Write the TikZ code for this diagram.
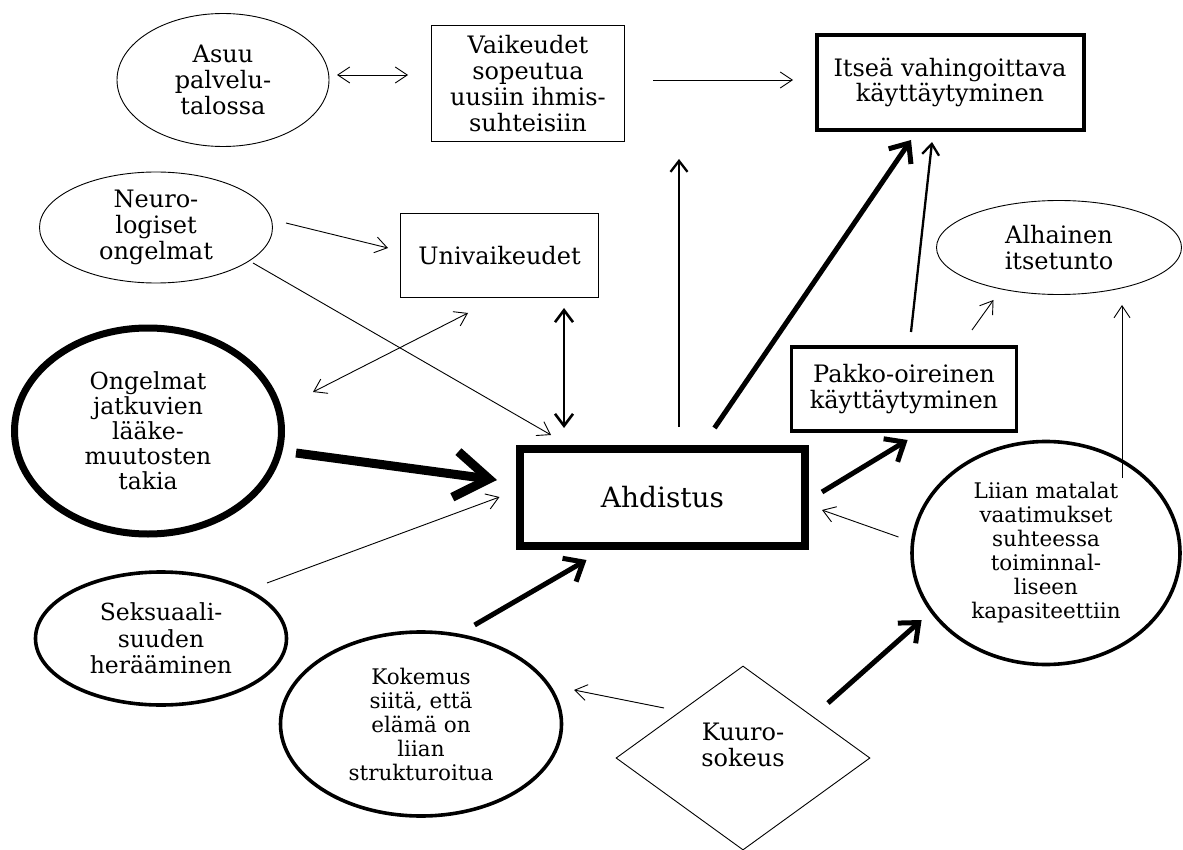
\documentclass[tikz,border=0pt]{standalone}
\usepackage{fontspec}
\setmainfont{DejaVu Serif}
\usetikzlibrary{arrows.meta,shapes.geometric,calc}

\begin{document}
\begin{tikzpicture}[x=1pt,y=-1pt,
  txt/.style={align=center,font=\fontsize{24}{26}\selectfont,inner sep=0pt},
  small/.style={font=\fontsize{21.5}{24}\selectfont},
  oval/.style={txt,ellipse,draw},
  box/.style={txt,rectangle,draw},
  thinln/.style={line width=0.9pt},
  boldln/.style={line width=3.6pt},
  thinarr/.style={line width=0.9pt,-{Straight Barb[length=12pt,width=16pt]}},
  thinbi/.style={line width=0.9pt,{Straight Barb[length=12pt,width=16pt]}-{Straight Barb[length=12pt,width=16pt]}},
  midarr/.style={line width=2.3pt,-{Straight Barb[length=11pt,width=17pt]}},
  midbi/.style={line width=2.6pt,{Straight Barb[length=12pt,width=18pt]}-{Straight Barb[length=12pt,width=18pt]}},
  thickarr/.style={line width=5pt,-{Straight Barb[length=16pt,width=27pt]}},
  heavyarr/.style={line width=9pt,-{Straight Barb[length=34pt,width=46pt]}}
]
\useasboundingbox (0,0) rectangle (1183,850);
\fill[white] (0,0) rectangle (1183,850);

% boxes and ovals
\node[oval,thinln,minimum width=212,minimum height=133] (asuu) at (223,80) {Asuu\\palvelu-\\talossa};
\node[box,thinln,minimum width=193,minimum height=116] (vaik) at (528,83.5) {Vaikeudet\\sopeutua\\uusiin ihmis-\\suhteisiin};
\node[box,line width=4pt,minimum width=267,minimum height=95,font=\fontsize{24}{24.5}\selectfont] (itse) at (950,82.5) {Itseä vahingoittava\\käyttäytyminen};
\node[oval,thinln,minimum width=233,minimum height=111] (neuro) at (156,227.5) {Neuro-\\logiset\\ongelmat};
\node[box,thinln,minimum width=198,minimum height=84] (univ) at (499.5,255.5) {Univaikeudet};
\node[oval,thinln,minimum width=245,minimum height=94] (alh) at (1059,247.5) {Alhainen\\itsetunto};
\node[box,boldln,minimum width=225,minimum height=84] (pakko) at (904,389) {Pakko-oireinen\\käyttäytyminen};
\node[oval,line width=7pt,minimum width=267,minimum height=206,font=\fontsize{23.5}{25}\selectfont] (ong) at (148,431) {Ongelmat\\jatkuvien\\lääke-\\muutosten\\takia};
\node[box,line width=8pt,minimum width=285,minimum height=97,font=\fontsize{28}{30}\selectfont] (ahd) at (662.5,497.5) {Ahdistus};
\node[oval,boldln,minimum width=251,minimum height=133,font=\fontsize{23.5}{26.5}\selectfont] (seks) at (161,638.5) {Seksuaali-\\suuden\\herääminen};
\node[oval,boldln,small,minimum width=281,minimum height=184] (kok) at (421,724) {Kokemus\\siitä, että\\elämä on\\liian\\strukturoitua};
\node[diamond,draw,thinln,inner sep=0pt,minimum width=254,minimum height=184,
      label={[txt,yshift=13pt]center:{Kuuro-\\sokeus}}] (kuuro) at (743,758) {};
\node[oval,boldln,small,minimum width=268,minimum height=223] (liian) at (1046,553) {Liian matalat\\vaatimukset\\suhteessa\\toiminnal-\\liseen\\kapasiteettiin};

% free end of the arrow rising from Ahdistus
\coordinate (upend) at (679,159);

% connectors
\draw[thinbi] ($(asuu)+(114,-5)$) -- ($(vaik)+(-120,-8.5)$);
\draw[thinarr] ($(vaik)+(125,-3.5)$) -- ($(itse)+(-157,-2.5)$);
\draw[thinarr] ($(neuro)+(130,-4.5)$) -- ($(univ)+(-111.5,-7.5)$);
\draw[thinarr] ($(neuro)+(97,35.5)$) -- ($(ahd)+(-111.5,-62.5)$);
\draw[thinbi] ($(ong)+(165,-39)$) -- ($(univ)+(-31.5,57.5)$);
\draw[midbi] ($(univ)+(64.5,52.5)$) -- ($(ahd)+(-98.5,-69.5)$);
\draw[midarr] ($(ahd)+(16.5,-70.5)$) -- (upend);
\draw[thickarr] ($(ahd)+(52,-69.5)$) -- ($(itse)+(-39,57.5)$);
\draw[midarr] ($(pakko)+(7,-57)$) -- ($(itse)+(-18,59.5)$);
\draw[thinarr] ($(pakko)+(68,-59)$) -- ($(alh)+(-65.5,52.5)$);
\draw[thinarr] ($(liian)+(76,-75)$) -- ($(alh)+(63,57.5)$);
\draw[heavyarr] ($(ong)+(148,22)$) -- ($(ahd)+(-165.5,-17.5)$);
\draw[thinarr] ($(seks)+(106,-55.5)$) -- ($(ahd)+(-163,-0.5)$);
\draw[thickarr] ($(ahd)+(159.5,-5.5)$) -- ($(pakko)+(3.6,51)$);
\draw[thinarr] ($(liian)+(-147.5,-16)$) -- ($(ahd)+(159.5,12.5)$);
\draw[thickarr] ($(kok)+(53.6,-99)$) -- ($(ahd)+(-76,62.5)$);
\draw[thinarr] ($(kuuro)+(-79,-50)$) -- ($(kok)+(153,-34)$);
\draw[thickarr] ($(kuuro)+(85,-55)$) -- ($(liian)+(-124.4,67)$);
\end{tikzpicture}
\end{document}
